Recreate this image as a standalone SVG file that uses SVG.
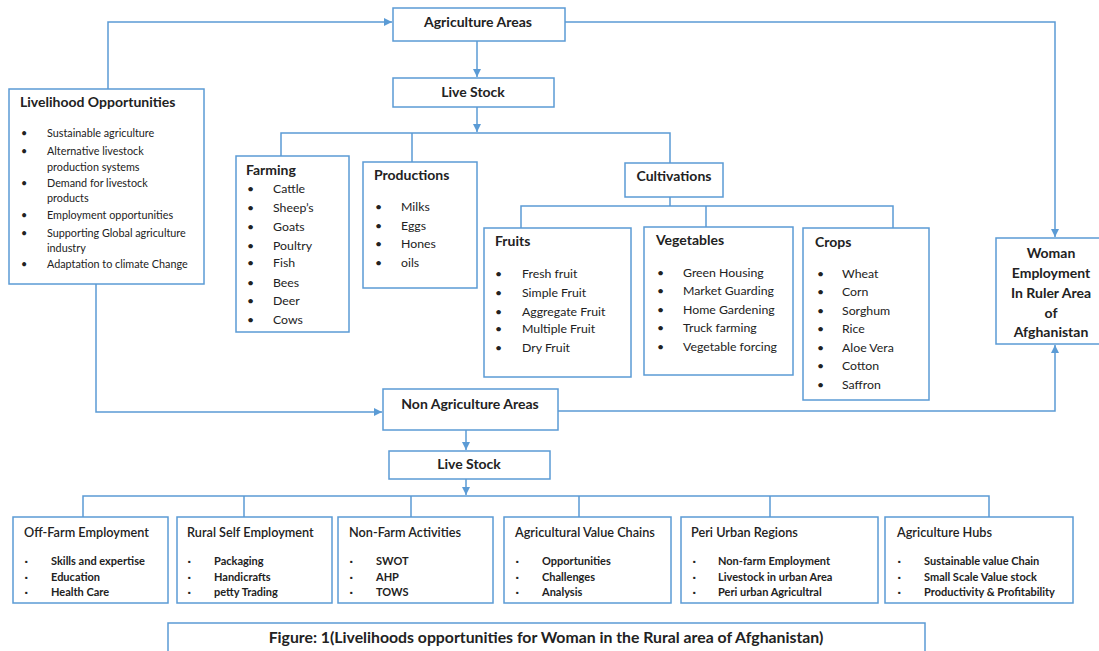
<svg xmlns="http://www.w3.org/2000/svg" width="1099" height="651" viewBox="0 0 1099 651">
<style>
.box{fill:#fff;stroke:#5b9bd5;stroke-width:1.5}
.ln{fill:none;stroke:#5b9bd5;stroke-width:1.5}
text{font-family:Lato,"Liberation Sans",sans-serif;fill:#222}
.h{font-size:14px;font-weight:bold}
.hc{font-size:14px;font-weight:bold;text-anchor:middle}
.i{font-size:12.3px;fill:#262626}
.s{font-size:10.8px;fill:#4a4a4a}
.b{font-size:11px;font-weight:bold;fill:#262626}
.q{font-size:7px}
.bt{font-size:12.7px;font-weight:600}
.cap{font-size:15.8px;font-weight:bold;text-anchor:middle}
</style>
<defs>
<marker id="ah" viewBox="0 0 10 10" refX="10" refY="5" markerWidth="8" markerHeight="8" markerUnits="userSpaceOnUse" orient="auto"><path d="M0,0 L10,5 L0,10z" fill="#5b9bd5"/></marker>
</defs>
<rect width="1099" height="651" fill="#fff"/>
<g id="connectors">
<path class="ln" d="M108,89 V22 H392" marker-end="url(#ah)"/>
<path class="ln" d="M565,22 H1055 V237" marker-end="url(#ah)"/>
<path class="ln" d="M477,41 V77" marker-end="url(#ah)"/>
<path class="ln" d="M477,107 V132" marker-end="url(#ah)"/>
<path class="ln" d="M281,156 V133 H670 V163 M412,133 V162"/>
<path class="ln" d="M670,197 V206 M521,228 V206 H893 V228 M706,206 V227"/>
<path class="ln" d="M96,284 V412 H382" marker-end="url(#ah)"/>
<path class="ln" d="M558,411 H1055 V345" marker-end="url(#ah)"/>
<path class="ln" d="M466,430 V450" marker-end="url(#ah)"/>
<path class="ln" d="M466,479 V495" marker-end="url(#ah)"/>
<path class="ln" d="M83,517 V496 H989 V517 M244,496 V517 M411,496 V517 M579,496 V517 M770,496 V517"/>
</g>
<g id="agri-areas">
<rect class="box" x="393" y="8" width="172" height="33"/>
<text class="hc" x="478" y="27">Agriculture Areas</text>
</g>
<g id="live-stock-1">
<rect class="box" x="393" y="78" width="161" height="29"/>
<text class="hc" x="473" y="97">Live Stock</text>
</g>
<g id="livelihood">
<rect class="box" x="9" y="89" width="195" height="195"/>
<text class="h" x="20" y="107">Livelihood Opportunities</text>
<g class="s">
<text x="21" y="137">•</text><text x="47" y="137">Sustainable agriculture</text>
<text x="21" y="155">•</text><text x="47" y="155">Alternative livestock</text>
<text x="47" y="171">production systems</text>
<text x="21" y="187">•</text><text x="47" y="187">Demand for livestock</text>
<text x="47" y="202">products</text>
<text x="21" y="219">•</text><text x="47" y="219">Employment opportunities</text>
<text x="21" y="237">•</text><text x="47" y="237">Supporting Global agriculture</text>
<text x="47" y="252">industry</text>
<text x="21" y="268">•</text><text x="47" y="268">Adaptation to climate Change</text>
</g>
</g>
<g id="farming">
<rect class="box" x="236" y="156" width="113" height="176"/>
<text class="h" x="246" y="175">Farming</text>
<g class="i">
<text x="247" y="193">•</text><text x="273" y="193">Cattle</text>
<text x="247" y="212">•</text><text x="273" y="212">Sheep’s</text>
<text x="247" y="231">•</text><text x="273" y="231">Goats</text>
<text x="247" y="250">•</text><text x="273" y="250">Poultry</text>
<text x="247" y="267">•</text><text x="273" y="267">Fish</text>
<text x="247" y="287">•</text><text x="273" y="287">Bees</text>
<text x="247" y="305">•</text><text x="273" y="305">Deer</text>
<text x="247" y="324">•</text><text x="273" y="324">Cows</text>
</g>
</g>
<g id="productions">
<rect class="box" x="363" y="162" width="114" height="126"/>
<text class="h" x="374" y="180">Productions</text>
<g class="i">
<text x="375" y="211">•</text><text x="401" y="211">Milks</text>
<text x="375" y="230">•</text><text x="401" y="230">Eggs</text>
<text x="375" y="248">•</text><text x="401" y="248">Hones</text>
<text x="375" y="267">•</text><text x="401" y="267">oils</text>
</g>
</g>
<g id="cultivations">
<rect class="box" x="625" y="163" width="98" height="34"/>
<text class="hc" x="674" y="181">Cultivations</text>
</g>
<g id="fruits">
<rect class="box" x="484" y="228" width="147" height="149"/>
<text class="h" x="495" y="246">Fruits</text>
<g class="i">
<text x="495" y="278">•</text><text x="522" y="278">Fresh fruit</text>
<text x="495" y="297">•</text><text x="522" y="297">Simple Fruit</text>
<text x="495" y="316">•</text><text x="522" y="316">Aggregate Fruit</text>
<text x="495" y="333">•</text><text x="522" y="333">Multiple Fruit</text>
<text x="495" y="352">•</text><text x="522" y="352">Dry Fruit</text>
</g>
</g>
<g id="vegetables">
<rect class="box" x="644" y="227" width="149" height="148"/>
<text class="h" x="656" y="245">Vegetables</text>
<g class="i">
<text x="657" y="277">•</text><text x="683" y="277">Green Housing</text>
<text x="657" y="295">•</text><text x="683" y="295">Market Guarding</text>
<text x="657" y="314">•</text><text x="683" y="314">Home Gardening</text>
<text x="657" y="332">•</text><text x="683" y="332">Truck farming</text>
<text x="657" y="351">•</text><text x="683" y="351">Vegetable forcing</text>
</g>
</g>
<g id="crops">
<rect class="box" x="803" y="228" width="126" height="172"/>
<text class="h" x="815" y="247">Crops</text>
<g class="i">
<text x="817" y="278">•</text><text x="842" y="278">Wheat</text>
<text x="817" y="296">•</text><text x="842" y="296">Corn</text>
<text x="817" y="315">•</text><text x="842" y="315">Sorghum</text>
<text x="817" y="333">•</text><text x="842" y="333">Rice</text>
<text x="817" y="352">•</text><text x="842" y="352">Aloe Vera</text>
<text x="817" y="370">•</text><text x="842" y="370">Cotton</text>
<text x="817" y="389">•</text><text x="842" y="389">Saffron</text>
</g>
</g>
<g id="woman">
<rect class="box" x="996" y="238" width="104" height="106"/>
<g class="hc">
<text x="1051" y="258">Woman</text>
<text x="1051" y="278">Employment</text>
<text x="1051" y="298">In Ruler Area</text>
<text x="1051" y="318">of</text>
<text x="1051" y="337">Afghanistan</text>
</g>
</g>
<g id="non-agri">
<rect class="box" x="383" y="389" width="175" height="41"/>
<text class="hc" x="470" y="409">Non Agriculture Areas</text>
</g>
<g id="live-stock-2">
<rect class="box" x="389" y="451" width="161" height="28"/>
<text class="hc" x="469" y="469">Live Stock</text>
</g>
<g id="off-farm">
<rect class="box" x="13" y="517" width="155" height="86"/>
<text class="bt" x="24" y="537">Off-Farm Employment</text>
<g class="b">
<text class="q" x="25" y="564">▪</text><text x="51" y="565">Skills and expertise</text>
<text class="q" x="25" y="580">▪</text><text x="51" y="581">Education</text>
<text class="q" x="25" y="595">▪</text><text x="51" y="596">Health Care</text>
</g>
</g>
<g id="rural-self">
<rect class="box" x="177" y="517" width="155" height="86"/>
<text class="bt" x="187" y="537">Rural Self Employment</text>
<g class="b">
<text class="q" x="188" y="564">▪</text><text x="214" y="565">Packaging</text>
<text class="q" x="188" y="580">▪</text><text x="214" y="581">Handicrafts</text>
<text class="q" x="188" y="595">▪</text><text x="214" y="596">petty Trading</text>
</g>
</g>
<g id="non-farm">
<rect class="box" x="338" y="517" width="155" height="86"/>
<text class="bt" x="349" y="537">Non-Farm Activities</text>
<g class="b">
<text class="q" x="350" y="564">▪</text><text x="376" y="565">SWOT</text>
<text class="q" x="350" y="580">▪</text><text x="376" y="581">AHP</text>
<text class="q" x="350" y="595">▪</text><text x="376" y="596">TOWS</text>
</g>
</g>
<g id="value-chains">
<rect class="box" x="504" y="517" width="167" height="86"/>
<text class="bt" x="515" y="537">Agricultural Value Chains</text>
<g class="b">
<text class="q" x="516" y="564">▪</text><text x="542" y="565">Opportunities</text>
<text class="q" x="516" y="580">▪</text><text x="542" y="581">Challenges</text>
<text class="q" x="516" y="595">▪</text><text x="542" y="596">Analysis</text>
</g>
</g>
<g id="peri-urban">
<rect class="box" x="681" y="517" width="197" height="86"/>
<text class="bt" x="691" y="537">Peri Urban Regions</text>
<g class="b">
<text class="q" x="693" y="564">▪</text><text x="718" y="565">Non-farm Employment</text>
<text class="q" x="693" y="580">▪</text><text x="718" y="581">Livestock in urban Area</text>
<text class="q" x="693" y="595">▪</text><text x="718" y="596">Peri urban Agricultral</text>
</g>
</g>
<g id="agri-hubs">
<rect class="box" x="885" y="517" width="188" height="86"/>
<text class="bt" x="897" y="537">Agriculture Hubs</text>
<g class="b">
<text class="q" x="898" y="564">▪</text><text x="924" y="565">Sustainable value Chain</text>
<text class="q" x="898" y="580">▪</text><text x="924" y="581">Small Scale Value stock</text>
<text class="q" x="898" y="595">▪</text><text x="924" y="596">Productivity &amp; Profitability</text>
</g>
</g>
<g id="caption">
<path class="ln" d="M168,655 V623 H925 V655"/>
<text class="cap" x="546" y="643">Figure: 1(Livelihoods opportunities for Woman in the Rural area of Afghanistan)</text>
</g>
</svg>
